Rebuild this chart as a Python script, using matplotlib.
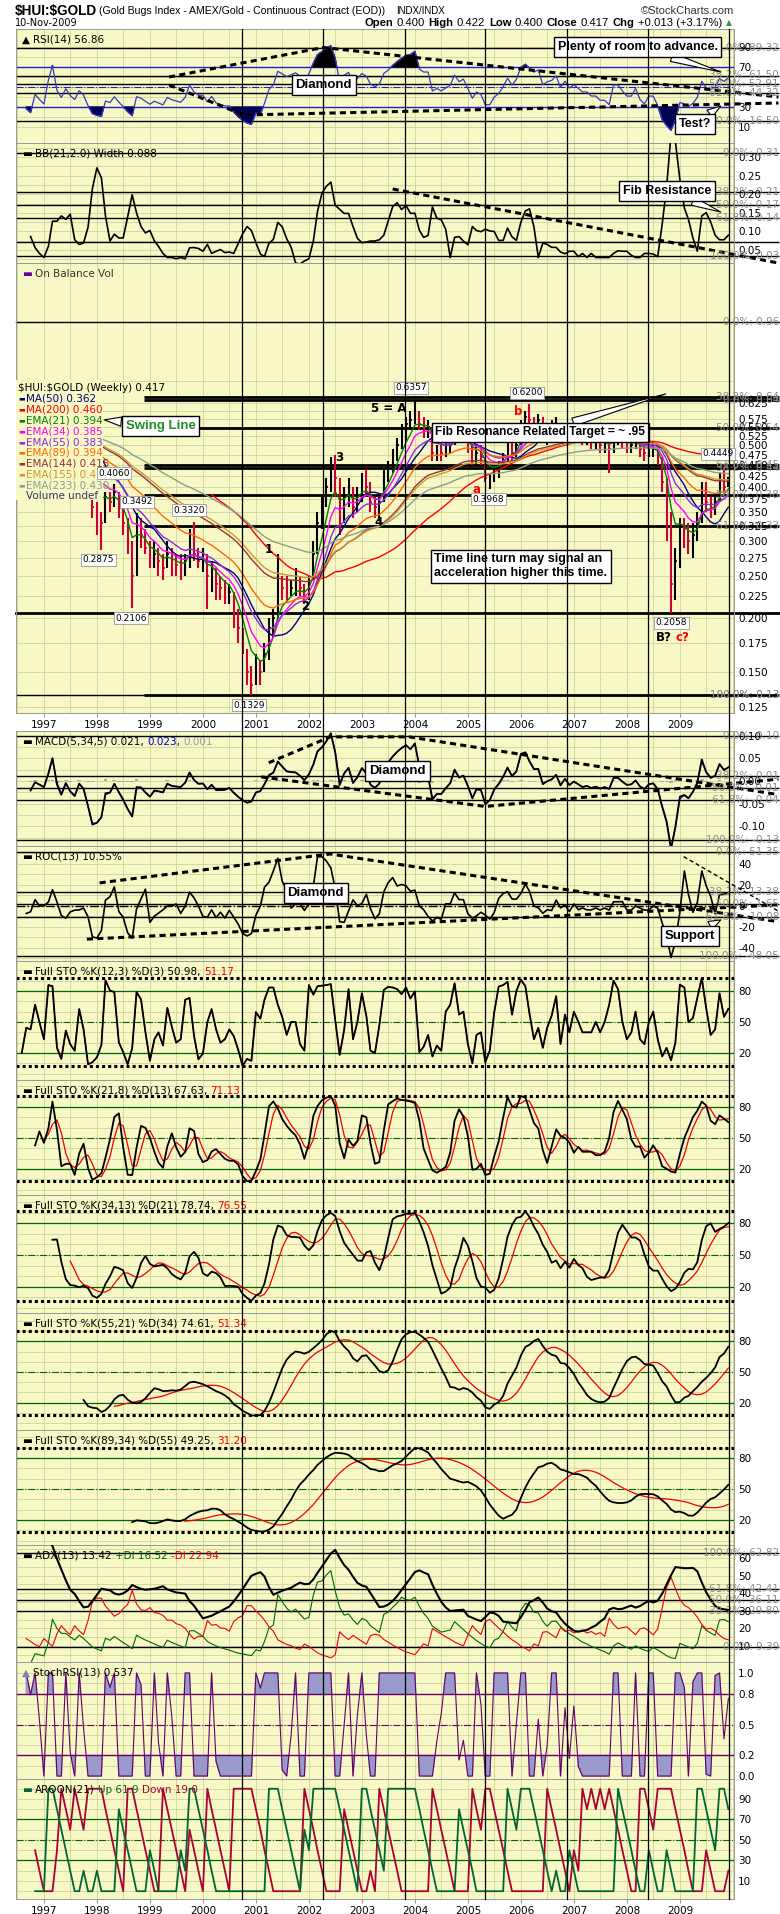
import matplotlib
matplotlib.use("Agg")
import matplotlib.pyplot as plt
import matplotlib.transforms as mtransforms
from matplotlib.lines import Line2D
from matplotlib.patches import Rectangle
from matplotlib.offsetbox import TextArea, HPacker, AnchoredOffsetbox
import numpy as np
import pandas as pd

plt.rcParams["font.family"] = ["DejaVu Sans"]
NARROW = ["Liberation Sans Narrow", "Liberation Sans", "DejaVu Sans"]

# HUI:$GOLD ratio, monthly bars May 1996 .. Nov 2009
close = [
    0.56, 0.54, 0.50, 0.52, 0.51, 0.53, 0.52, 0.51,
    0.55, 0.60, 0.53, 0.50, 0.53, 0.50, 0.48, 0.51, 0.49, 0.43, 0.36, 0.34,
    0.33, 0.38, 0.37, 0.39, 0.36, 0.33, 0.29, 0.25, 0.32, 0.31, 0.29, 0.27,
    0.28, 0.27, 0.26, 0.28, 0.27, 0.265, 0.26, 0.27, 0.30, 0.28, 0.27, 0.27,
    0.25, 0.26, 0.24, 0.235, 0.23, 0.23, 0.21, 0.19, 0.17, 0.15, 0.14, 0.155,
    0.15, 0.165, 0.19, 0.20, 0.24, 0.235, 0.23, 0.235, 0.24, 0.235, 0.225, 0.245,
    0.28, 0.33, 0.36, 0.40, 0.45, 0.42, 0.34, 0.38, 0.40, 0.36, 0.38, 0.41,
    0.40, 0.37, 0.36, 0.37, 0.42, 0.44, 0.47, 0.50, 0.53, 0.56, 0.57, 0.61,
    0.56, 0.55, 0.55, 0.48, 0.49, 0.48, 0.49, 0.50, 0.54, 0.52, 0.53, 0.50,
    0.46, 0.48, 0.47, 0.42, 0.42, 0.44, 0.45, 0.47, 0.50, 0.48, 0.50, 0.56,
    0.58, 0.57, 0.56, 0.57, 0.53, 0.54, 0.545, 0.56, 0.53, 0.55, 0.53, 0.54,
    0.53, 0.52, 0.52, 0.51, 0.51, 0.50, 0.50, 0.49, 0.52, 0.52, 0.51, 0.50,
    0.50, 0.51, 0.49, 0.48, 0.49, 0.49, 0.47, 0.41, 0.35, 0.24, 0.27, 0.33,
    0.32, 0.30, 0.31, 0.33, 0.40, 0.37, 0.36, 0.37, 0.41, 0.40, 0.417,
]
high = [
    0.58, 0.57, 0.55, 0.53, 0.53, 0.55, 0.55, 0.53,
    0.56, 0.62, 0.60, 0.54, 0.55, 0.54, 0.51, 0.53, 0.52, 0.50, 0.44, 0.37,
    0.35, 0.39, 0.39, 0.406, 0.39, 0.37, 0.34, 0.30, 0.3492, 0.34, 0.32, 0.30,
    0.30, 0.29, 0.28, 0.30, 0.29, 0.28, 0.28, 0.28, 0.32, 0.332, 0.29, 0.29,
    0.28, 0.27, 0.26, 0.25, 0.245, 0.24, 0.23, 0.21, 0.19, 0.17, 0.155, 0.165,
    0.16, 0.175, 0.20, 0.21, 0.28, 0.25, 0.25, 0.245, 0.26, 0.25, 0.24, 0.25,
    0.30, 0.35, 0.38, 0.42, 0.47, 0.475, 0.42, 0.40, 0.42, 0.40, 0.40, 0.43,
    0.44, 0.41, 0.38, 0.38, 0.44, 0.46, 0.49, 0.52, 0.56, 0.58, 0.60, 0.6357,
    0.60, 0.58, 0.57, 0.55, 0.50, 0.50, 0.51, 0.52, 0.55, 0.55, 0.55, 0.53,
    0.50, 0.50, 0.50, 0.47, 0.43, 0.45, 0.46, 0.48, 0.51, 0.51, 0.51, 0.57,
    0.60, 0.62, 0.58, 0.59, 0.58, 0.55, 0.57, 0.58, 0.56, 0.56, 0.55, 0.55,
    0.55, 0.54, 0.53, 0.53, 0.52, 0.52, 0.52, 0.51, 0.53, 0.54, 0.53, 0.52,
    0.52, 0.53, 0.52, 0.50, 0.50, 0.51, 0.50, 0.47, 0.42, 0.35, 0.29, 0.34,
    0.34, 0.33, 0.33, 0.35, 0.41, 0.41, 0.38, 0.38, 0.43, 0.4449, 0.422,
]
low = [
    0.54, 0.52, 0.48, 0.49, 0.49, 0.50, 0.51, 0.49,
    0.50, 0.55, 0.51, 0.48, 0.49, 0.49, 0.46, 0.47, 0.47, 0.42, 0.34, 0.31,
    0.2875, 0.33, 0.35, 0.36, 0.34, 0.31, 0.28, 0.2106, 0.25, 0.29, 0.28, 0.26,
    0.26, 0.25, 0.245, 0.26, 0.25, 0.25, 0.245, 0.25, 0.26, 0.27, 0.26, 0.255,
    0.21, 0.23, 0.22, 0.22, 0.215, 0.215, 0.19, 0.175, 0.165, 0.14, 0.1329, 0.14,
    0.14, 0.15, 0.16, 0.18, 0.20, 0.22, 0.22, 0.225, 0.225, 0.225, 0.215, 0.22,
    0.245, 0.28, 0.32, 0.36, 0.39, 0.38, 0.31, 0.33, 0.36, 0.34, 0.35, 0.37,
    0.38, 0.35, 0.34, 0.335, 0.37, 0.41, 0.43, 0.46, 0.49, 0.51, 0.54, 0.56,
    0.54, 0.52, 0.52, 0.46, 0.46, 0.46, 0.47, 0.48, 0.50, 0.51, 0.51, 0.48,
    0.45, 0.45, 0.45, 0.41, 0.3968, 0.41, 0.42, 0.44, 0.46, 0.46, 0.47, 0.50,
    0.55, 0.55, 0.53, 0.55, 0.51, 0.50, 0.53, 0.54, 0.51, 0.52, 0.51, 0.52,
    0.51, 0.50, 0.50, 0.49, 0.49, 0.48, 0.48, 0.43, 0.48, 0.50, 0.49, 0.48,
    0.48, 0.49, 0.47, 0.46, 0.47, 0.47, 0.45, 0.39, 0.30, 0.2058, 0.22, 0.26,
    0.29, 0.28, 0.275, 0.30, 0.33, 0.35, 0.34, 0.345, 0.37, 0.39, 0.40,
]
dates = pd.date_range("1996-05-31", periods=len(close), freq="ME")

years = list(range(1997, 2010))
time_lines = [2000.74, 2002.27, 2003.81, 2005.33, 2006.87, 2008.39, 2009.92]

# fib / trend annotations drawn on the chart
rsi_fib = [89.32, 61.50, 52.91, 44.32, 16.50]
rsi_fib_txt = ["0.0%: 89.32", "38.2%: 61.50", "50.0%: 52.91", "61.8%: 44.32", "100.0%: 16.50"]
rsi_trend = [[(1999.36, 60), (2002.27, 89.5), (2010.86, 40)],
             [(1999.36, 52), (2000.77, 22), (2010.86, 34)]]
bb_fib = [0.31, 0.205, 0.17, 0.137, 0.072, 0.034]
bb_fib_txt = ["0.0%: 0.31", "38.2%: 0.21", "50.0%: 0.17", "61.8%: 0.14", "", "100.0%: 0.03"]
bb_trend = [[(2003.58, 0.214), (2010.86, 0.015)]]
px_fib = [0.644, 0.6357, 0.546, 0.449, 0.4436, 0.384, 0.325, 0.1329]
px_fib_txt = ["38.2%: 0.64", "0.0%: 0.64", "50.0%: 0.54", "61.8%: 0.45", "38.2%: 0.44",
              "50.0%: 0.38", "61.8%: 0.33", "100.0%: 0.13"]
px_hi_lo = [(2003.93, 0.676, "0.6357"), (2006.11, 0.659, "0.6200"), (1998.32, 0.431, "0.4060"),
            (1998.75, 0.370, "0.3492"), (1999.74, 0.354, "0.3320"), (1998.03, 0.272, "0.2875"),
            (1998.64, 0.200, "0.2106"), (2000.87, 0.126, "0.1329"), (2005.39, 0.375, "0.3968"),
            (2008.84, 0.195, "0.2058"), (2009.72, 0.477, "0.4449")]
waves = [(2001.24, 0.287, "1", "black"), (2001.92, 0.213, "2", "black"), (2002.57, 0.469, "3", "black"),
         (2003.32, 0.332, "4", "black"), (2003.50, 0.608, "5 = A", "black"), (2005.16, 0.394, "a", "red"),
         (2005.95, 0.598, "b", "red"), (2008.70, 0.180, "B?", "black"), (2009.05, 0.180, "c?", "red")]
macd_fib = [0.10, 0.012, -0.015, -0.042, -0.13]
macd_fib_txt = ["0.0%: 0.10", "38.2%: 0.01", "50.0%: -0.01", "61.8%: -0.04", "100.0%: -0.13"]
macd_trend = [[(2001.24, 0.040), (2002.40, 0.097), (2003.89, 0.097), (2010.86, -0.030)],
              [(2001.10, 0.009), (2005.33, -0.056), (2010.86, 0.004)]]
roc_fib = [51.35, 13.38, 1.65, -10.08, -48.05]
roc_fib_txt = ["0.0%: 51.35", "38.2%: 13.38", "50.0%: 1.65", "61.8%: -10.08", "100.0%: -48.05"]
roc_trend = [[(1998.05, 22), (2002.40, 49.5), (2010.86, -15)],
             [(1997.81, -31.6), (2010.86, 1)]]
roc_thin = [(2009.07, 47), (2010.86, -5)]
adx_fib = [62.82, 42.41, 36.11, 29.80, 9.39]
adx_fib_txt = ["100.0%: 62.82", "61.8%: 42.41", "50.0%: 36.11", "38.2%: 29.80", "0.0%: 9.39"]

BG = "#F8F8C6"
GRID = "#CBD49C"
FW, FH = 780, 1914
X0, X1 = 1996.472, 2010.02

c = np.array(close); h = np.array(high); l = np.array(low)
assert len(c) == len(h) == len(l)
xs = (dates.year + (dates.dayofyear - 0.5) / np.where(dates.is_leap_year, 366, 365)).to_numpy()


# ---- indicators (weekly settings turned into monthly ones)
def ema(v, span):
    return pd.Series(v).ewm(span=span, adjust=False).mean().to_numpy()

def sma(v, n):
    return pd.Series(v).rolling(n).mean().to_numpy()

def wilder(v, n):
    return pd.Series(v).ewm(alpha=1.0 / n, adjust=False).mean().to_numpy()

def rsi(v, n):
    d = np.diff(v, prepend=v[0])
    up = wilder(np.clip(d, 0, None), n)
    dn = wilder(np.clip(-d, 0, None), n)
    out = 100 - 100 / (1 + up / np.maximum(dn, 1e-9))
    out[0] = np.nan
    return out

def full_sto(k, slow, d):
    hh = pd.Series(h).rolling(k).max()
    ll = pd.Series(l).rolling(k).min()
    raw = 100 * (pd.Series(c) - ll) / (hh - ll)
    kk = raw.rolling(slow).mean()
    return kk.to_numpy(), kk.rolling(d).mean().to_numpy()

wk = 52 / 12.0
rsi14 = rsi(c, 8)
rsi14[:3] = np.nan
bbw = 4 * pd.Series(c).rolling(5).std(ddof=0).to_numpy()      # band width in price units
macd = ema(c, 5 / wk) - ema(c, 34 / wk)
macd[:4] = np.nan
signal = ema(np.nan_to_num(macd, nan=0.0), 5 / wk)
signal[:4] = np.nan
hist = macd - signal
roc = (c / np.roll(c, 3) - 1) * 100
roc[:3] = np.nan
stos = [full_sto(3, 1, 1), full_sto(5, 2, 3), full_sto(8, 3, 5), full_sto(13, 5, 8), full_sto(21, 8, 13)]

hs, ls_, cs = pd.Series(h), pd.Series(l), pd.Series(c)
upm, dnm = hs.diff().fillna(0), (-ls_.diff()).fillna(0)
pdm = np.where((upm > dnm) & (upm > 0), upm, 0.0)
ndm = np.where((dnm > upm) & (dnm > 0), dnm, 0.0)
tr = np.maximum.reduce([(hs - ls_).to_numpy(), (hs - cs.shift()).abs().fillna(0).to_numpy(),
                        (ls_ - cs.shift()).abs().fillna(0).to_numpy()])
N_ADX = 8
atr = wilder(tr, N_ADX)
pdi = 100 * wilder(pdm, N_ADX) / atr
ndi = 100 * wilder(ndm, N_ADX) / atr
adx = wilder(100 * np.abs(pdi - ndi) / (pdi + ndi), N_ADX)
pdi[:3] = ndi[:3] = np.nan
adx[:6] = np.nan

r3 = pd.Series(rsi(c, 3))
srsi = ((r3 - r3.rolling(3).min()) / (r3.rolling(3).max() - r3.rolling(3).min())).to_numpy()
aroon_up = pd.Series(h).rolling(6).apply(lambda w: np.argmax(w) / 5 * 100, raw=True).to_numpy()
aroon_dn = pd.Series(l).rolling(6).apply(lambda w: np.argmin(w) / 5 * 100, raw=True).to_numpy()

# ---- figure
fig = plt.figure(figsize=(FW / 100, FH / 100), dpi=100)
fig.patch.set_facecolor("white")


def panel(top, bot, ylim, ticks, labels, hgrid, log=False):
    ax = fig.add_axes([16 / FW, 1 - bot / FH, 718 / FW, (bot - top) / FH])
    ax.set_facecolor(BG)
    if log:
        ax.set_yscale("log")
    ax.set_xlim(X0, X1)
    ax.set_ylim(*ylim)
    ax.yaxis.tick_right()
    ax.set_yticks(ticks)
    ax.set_yticklabels(labels)
    ax.yaxis.set_minor_locator(matplotlib.ticker.NullLocator())
    ax.tick_params(axis="y", length=0, pad=3, labelsize=7.5)
    ax.tick_params(axis="x", bottom=False, labelbottom=False)
    for sp in ax.spines.values():
        sp.set_color("#999999")
        sp.set_linewidth(0.7)
    for g in hgrid:
        ax.axhline(g, color=GRID, lw=0.6, zorder=0.5)
    for yv in range(1996, 2011):
        ax.axvline(yv, color=GRID, lw=0.6, zorder=0.5)
        ax.axvline(yv + 0.5, color=GRID, lw=0.6, zorder=0.5)
    return ax


def panel_label(ax, parts):
    kids = [TextArea(t, textprops=dict(color=col, fontsize=7.5)) for t, col in parts]
    box = HPacker(children=kids, align="baseline", pad=0, sep=2.5)
    anc = AnchoredOffsetbox(loc="upper left", child=box, pad=0.1, borderpad=0.3, frameon=False)
    anc.set_zorder(9)
    ax.add_artist(anc)


def fib_lines(ax, levels, texts, x_from=None, lw=1.0):
    tf = mtransforms.blended_transform_factory(fig.transFigure, ax.transData)
    for v, t in zip(levels, texts):
        ax.plot([x_from if x_from else X0, 2010.86], [v, v], color="black", lw=lw,
                clip_on=False, zorder=1.2, solid_capstyle="butt")
        if t:
            ax.text(779 / FW, v, t, transform=tf, ha="right", va="center", fontsize=7.5,
                    color="#8C8C8C", zorder=9, clip_on=False)


def trend(ax, pts, lw=2.2, ls=(0, (2.0, 1.4))):
    px_, py_ = zip(*pts)
    ax.plot(px_, py_, color="black", lw=lw, ls=ls, clip_on=False, zorder=4, dash_capstyle="butt")


def callout(ax, text, box_xy, tip=None, size=9, color="black"):
    kw = dict(fontsize=size, fontweight="bold", family=NARROW, color=color, ha="center",
              va="center", zorder=10, annotation_clip=False, multialignment="left",
              bbox=dict(boxstyle="square,pad=0.3", fc="white", ec="black", lw=1.0))
    if tip is None:
        ax.annotate(text, xy=box_xy, **kw)
    else:
        ax.annotate(text, xy=tip, xytext=box_xy,
                    arrowprops=dict(arrowstyle="wedge,tail_width=0.7,shrink_factor=0.5",
                                    fc="white", ec="black", lw=0.8, shrinkA=0, shrinkB=0), **kw)


# ---- header
SANS = ["Liberation Sans", "DejaVu Sans"]
fig.text(15 / FW, 1 - 11 / FH, r"\$HUI:\$GOLD", fontsize=9.8, fontweight="bold", family=SANS, va="center")
fig.text(99 / FW, 1 - 11 / FH, "(Gold Bugs Index - AMEX/Gold - Continuous Contract (EOD))",
         fontsize=7.6, family=SANS, va="center")
fig.text(396 / FW, 1 - 11 / FH, "INDX/INDX", fontsize=7, family=SANS, va="center")
fig.text(734 / FW, 1 - 11 / FH, "\u00a9StockCharts.com", fontsize=8, family=SANS, va="center",
         ha="right", color="#333333")
fig.text(15 / FW, 1 - 23 / FH, "10-Nov-2009", fontsize=7, va="center")
hdr = []
for word, val in [("Open", "0.400"), ("High", "0.422"), ("Low", "0.400"), ("Close", "0.417"),
                  ("Chg", "+0.013 (+3.17%)")]:
    hdr.append(TextArea(word, textprops=dict(fontsize=8.1, fontweight="bold", family=SANS)))
    hdr.append(TextArea(val, textprops=dict(fontsize=8.1, family=SANS)))
hb = AnchoredOffsetbox(loc="center right", child=HPacker(children=hdr, align="baseline", pad=0, sep=2.5),
                       bbox_to_anchor=(722 / FW, 1 - 23 / FH), bbox_transform=fig.transFigure,
                       frameon=False, pad=0, borderpad=0)
fig.add_artist(hb)
fig.text(729 / FW, 1 - 23 / FH, "\u25b2", fontsize=5.5, color="#339933", ha="center", va="center")

# ---- RSI
ax = panel(29, 143, (-6, 108), [90, 70, 30, 10], ["90", "70", "30", "10"], range(10, 100, 10))
ax.axhline(70, color="#2020CC", lw=1.0, zorder=1.3)
ax.axhline(30, color="#2020CC", lw=1.0, zorder=1.3)
ax.axhline(50, color="#2020CC", lw=0.8, ls="-.", zorder=1.3)
fib_lines(ax, rsi_fib, rsi_fib_txt)
ax.fill_between(xs, rsi14, 70, where=rsi14 > 70, color="black", interpolate=True, zorder=2)
ax.fill_between(xs, rsi14, 30, where=rsi14 < 30, color="#000055", interpolate=True, zorder=2)
ax.plot(xs, rsi14, color="#3838C0", lw=0.9, zorder=3)
for pts in rsi_trend:
    trend(ax, pts)
panel_label(ax, [("\u25b2", "black"), ("RSI(14) 56.86", "black")])
callout(ax, "Diamond", (2002.28, 52), size=9.5)
callout(ax, "Plenty of room to advance.", (2008.2, 90), tip=(2009.77, 65))
callout(ax, "Test?", (2009.28, 13), tip=(2009.77, 31))

# ---- BB width
ax = panel(143, 263, (0.0151, 0.3377), [0.30, 0.25, 0.20, 0.15, 0.10, 0.05],
           ["0.30", "0.25", "0.20", "0.15", "0.10", "0.05"], np.arange(0.025, 0.33, 0.025))
fib_lines(ax, bb_fib, bb_fib_txt)
ax.plot(xs, bbw, color="black", lw=1.2, zorder=3)
for pts in bb_trend:
    trend(ax, pts)
panel_label(ax, [("\u25ac", "black"), ("BB(21,2.0) Width 0.088", "black")])
callout(ax, "Fib Resistance", (2008.75, 0.209), tip=(2009.77, 0.152))

# ---- price
pticks = [0.125, 0.15, 0.175, 0.2, 0.225, 0.25, 0.275, 0.3, 0.325, 0.35, 0.375, 0.4, 0.425,
          0.45, 0.475, 0.5, 0.525, 0.55, 0.575, 0.625]
ax = panel(263, 713, (0.121, 1.31), pticks, [f"{t:.3f}" for t in pticks],
           list(np.arange(0.125, 0.64, 0.025)) + [0.70], log=True)
tf = mtransforms.blended_transform_factory(fig.transFigure, ax.transData)
ax.plot([X0, 2010.86], [0.96, 0.96], color="black", lw=1.0, clip_on=False, zorder=1.2)
ax.text(779 / FW, 0.96, "0.0%: 0.96", transform=tf, ha="right", va="center", fontsize=7.5,
        color="#8C8C8C", clip_on=False)
ax.plot([X0, 2010.86], [0.2058, 0.2058], color="black", lw=2.0, clip_on=False, zorder=1.2)
ax.plot([X0, 1998.89], [0.1329, 0.1329], color="black", lw=1.0, zorder=1.2)
fib_lines(ax, px_fib, px_fib_txt, x_from=1998.89, lw=2.0)
ax.text(779 / FW, 0.1329, "100.0%: 0.13", transform=tf, ha="right", va="center", fontsize=7.5,
        color="#8C8C8C", clip_on=False)
up = np.r_[True, c[1:] >= c[:-1]]
cols = np.where(up, "black", "#CC0033")
ax.vlines(xs, l, h, colors=cols, lw=1.5, zorder=2)
ax.hlines(c, xs, xs + 0.03, colors=cols, lw=1.2, zorder=2)
mas = [(sma(c, 12), "#000080"), (sma(c, 46), "#FF0000"), (ema(c, 21 / wk), "#008000"),
       (ema(c, 34 / wk), "#FF00FF"), (ema(c, 55 / wk), "#8A2BE2"), (ema(c, 89 / wk), "#FF6600"),
       (ema(c, 144 / wk), "#993333"), (ema(c, 155 / wk), "#CC9933"), (ema(c, 233 / wk), "#88A088")]
for series, col in mas:
    ax.plot(xs, series, color=col, lw=1.0, zorder=3)
ax.add_patch(Rectangle((0, 1 - 237 / 450), 87 / 718, 120 / 450, transform=ax.transAxes,
                       fc=BG, ec="none", zorder=4.5))
legend = [(r"\$HUI:\$GOLD (Weekly) 0.417", "black", None), ("MA(50) 0.362", "#000080", "#000080"),
          ("MA(200) 0.460", "#FF0000", "#FF0000"), ("EMA(21) 0.394", "#008000", "#008000"),
          ("EMA(34) 0.385", "#FF00FF", "#FF00FF"), ("EMA(55) 0.383", "#8A2BE2", "#8A2BE2"),
          ("EMA(89) 0.394", "#FF6600", "#FF6600"), ("EMA(144) 0.415", "#993333", "#993333"),
          ("EMA(155) 0.418", "#CC9933", "#CC9933"), ("EMA(233) 0.430", "#88A088", "#88A088"),
          ("Volume undef", "#333366", None)]
for i, (txt, col, icon) in enumerate(legend):
    yy = 1 - (388 + 10.8 * i - 263) / 450
    if icon:
        ax.text(2 / 718, yy, "\u25ac", color=icon, fontsize=5, va="center", transform=ax.transAxes, zorder=6)
    ax.text(10 / 718 if icon or i else 2 / 718, yy, txt, color=col, fontsize=7.5, va="center",
            transform=ax.transAxes, zorder=6)
panel_label(ax, [("\u25ac", "#660099"), ("On Balance Vol", "#333333")])
for x_, y_, t in px_hi_lo:
    ax.text(x_, y_, t, fontsize=6.5, ha="center", va="center", zorder=7,
            bbox=dict(boxstyle="square,pad=0.15", fc="white", ec="#999999", lw=0.6))
for x_, y_, t, col in waves:
    ax.text(x_, y_, t, fontsize=8.5, fontweight="bold", color=col, ha="center", va="center", zorder=7)
callout(ax, "Swing Line", (1999.2, 0.553), tip=(1998.14, 0.571), color="#228B22", size=9.5)
callout(ax, "Fib Resonance Related Target = ~ .95", (2006.36, 0.535), tip=(2008.73, 0.655), size=8.6)
callout(ax, "Time line turn may signal an\nacceleration higher this time.", (2006.0, 0.263))
ax.set_xticks(years)
ax.set_xticklabels([str(y) for y in years])
ax.tick_params(axis="x", bottom=True, labelbottom=True, length=3, pad=2, labelsize=7.5, color="#999999")
ax_price = ax

# ---- MACD
ax = panel(731, 846, (-0.1429, 0.1099), [0.10, 0.05, 0.0, -0.05, -0.10],
           ["0.10", "0.05", "0.00", "-0.05", "-0.10"], np.arange(-0.125, 0.11, 0.025))
fib_lines(ax, macd_fib, macd_fib_txt)
ax.bar(xs, hist, width=0.07, color="#A8A8A8", zorder=2)
ax.plot(xs, signal, color="#2222DD", lw=0.9, zorder=3)
ax.plot(xs, macd, color="black", lw=1.3, zorder=3)
for pts in macd_trend:
    trend(ax, pts)
panel_label(ax, [("\u25ac", "black"), ("MACD(5,34,5) 0.021,", "black"), ("0.023,", "#0000CC"), ("0.001", "#999999")])
callout(ax, "Diamond", (2003.67, 0.022), size=9.5)

# ---- ROC
ax = panel(846, 961, (-52.4, 57.1), [40, 20, 0, -20, -40], ["40", "20", "0", "-20", "-40"], range(-50, 60, 10))
fib_lines(ax, roc_fib, roc_fib_txt)
ax.axhline(0, color="black", lw=1.0, ls="-.", zorder=1.2)
ax.plot(xs, roc, color="black", lw=1.2, zorder=3)
for pts in roc_trend:
    trend(ax, pts)
trend(ax, roc_thin, lw=1.0, ls=(0, (3, 2)))
panel_label(ax, [("\u25ac", "black"), ("ROC(13) 10.55%", "black")])
callout(ax, "Diamond", (2002.13, 12), size=9.5)
callout(ax, "Support", (2009.19, -28.6), tip=(2009.77, -13.3), size=9.5)

# ---- Full stochastics
sto_rows = [(961, 1080, (-6.1, 109.0), "Full STO %K(12,3) %D(3) 50.98,", "51.17"),
            (1080, 1195, (-5.2, 106.1), "Full STO %K(21,8) %D(13) 67.63,", "71.13"),
            (1195, 1313, (-5.2, 107.1), "Full STO %K(34,13) %D(21) 78.74,", "76.55"),
            (1313, 1430, (-7.0, 108.0), "Full STO %K(55,21) %D(34) 74.61,", "51.34"),
            (1430, 1545, (-4.2, 107.1), "Full STO %K(89,34) %D(55) 49.25,", "31.20")]
for (top, bot, yl, lab, dval), (kk, dd) in zip(sto_rows, stos):
    ax = panel(top, bot, yl, [80, 50, 20], ["80", "50", "20"], range(0, 101, 10))
    ax.axhline(80, color="#006600", lw=0.9, zorder=1.3)
    ax.axhline(20, color="#006600", lw=0.9, zorder=1.3)
    ax.axhline(50, color="#006600", lw=0.8, ls="-.", zorder=1.3)
    ax.axhline(np.nanmax(kk), color="black", lw=2.2, ls=(0, (1, 1)), zorder=1.4)
    ax.axhline(np.nanmin(kk), color="black", lw=2.2, ls=(0, (1, 1)), zorder=1.4)
    ax.plot(xs, dd, color="#EE0000", lw=0.9, zorder=3)
    ax.plot(xs, kk, color="black", lw=1.3, zorder=3)
    panel_label(ax, [("\u25ac", "black"), (lab, "black"), (dval, "#EE0000")])

# ---- ADX
ax = panel(1545, 1662, (0.9, 67.4), [60, 50, 40, 30, 20, 10], ["60", "50", "40", "30", "20", "10"], range(5, 66, 5))
fib_lines(ax, adx_fib, adx_fib_txt)
ax.plot(xs, pdi, color="#006600", lw=0.8, zorder=3)
ax.plot(xs, ndi, color="#EE0000", lw=0.8, zorder=3)
ax.plot(xs, adx, color="black", lw=1.5, zorder=3)
panel_label(ax, [("\u25ac", "black"), ("ADX(13) 13.42", "black"), ("+DI 16.52", "#006600"), ("-DI 22.94", "#EE0000")])

# ---- StochRSI
ax = panel(1662, 1779, (-0.029, 1.107), [1.0, 0.8, 0.5, 0.2, 0.0], ["1.0", "0.8", "0.5", "0.2", "0.0"],
           np.arange(0.1, 1.01, 0.1))
ax.fill_between(xs, srsi, 0.8, where=srsi > 0.8, color="#9999CC", interpolate=True, zorder=2)
ax.fill_between(xs, srsi, 0.2, where=srsi < 0.2, color="#9999CC", interpolate=True, zorder=2)
ax.axhline(0.8, color="#660066", lw=1.0, zorder=2.5)
ax.axhline(0.2, color="#660066", lw=1.0, zorder=2.5)
ax.axhline(0.5, color="#660066", lw=0.8, ls="-.", zorder=2.5)
ax.plot(xs, srsi, color="#660066", lw=0.8, zorder=3)
panel_label(ax, [("\u25b2", "#8080C0"), ("StochRSI(13) 0.537", "black")])

# ---- AROON
ax = panel(1779, 1899, (-7.6, 109.5), [90, 70, 50, 30, 10], ["90", "70", "50", "30", "10"], range(0, 101, 10))
ax.axhline(70, color="#006600", lw=0.9, zorder=1.3)
ax.axhline(30, color="#006600", lw=0.9, zorder=1.3)
ax.axhline(50, color="#006600", lw=0.8, ls="-.", zorder=1.3)
ax.plot(xs, aroon_dn, color="#AA0033", lw=1.3, zorder=3)
ax.plot(xs, aroon_up, color="#006633", lw=1.3, zorder=3)
panel_label(ax, [("\u25ac", "#006633"), ("AROON(21)", "black"), ("Up 61.9", "#006633"), ("Down 19.0", "#AA0033")])
ax.set_xticks(years)
ax.set_xticklabels([str(y) for y in years])
ax.tick_params(axis="x", bottom=True, labelbottom=True, length=3, pad=2, labelsize=7.5, color="#999999")

# black time lines run through every panel
tl = mtransforms.blended_transform_factory(ax_price.transData, fig.transFigure)
for t in time_lines:
    fig.add_artist(Line2D([t, t], [1 - 29 / FH, 1 - 1899 / FH], transform=tl, color="black", lw=0.9, zorder=1))

fig.savefig("out.png", dpi=100, facecolor="white")
